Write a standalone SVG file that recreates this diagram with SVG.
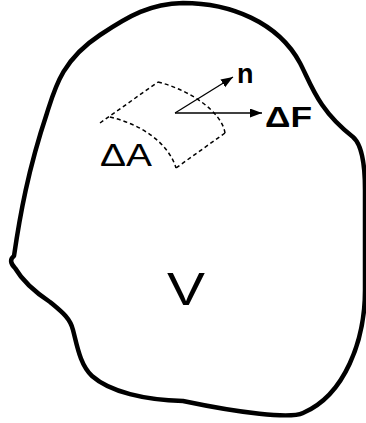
<svg xmlns="http://www.w3.org/2000/svg" width="366" height="423" viewBox="0 0 366 423">
<style>
.outline{fill:none;stroke:#000;stroke-width:4.5;stroke-linejoin:round;stroke-linecap:round}
.dash{fill:none;stroke:#000;stroke-width:1.5;stroke-dasharray:4 3}
.arrow{fill:none;stroke:#000;stroke-width:1.3}
.lbl{font-family:"Liberation Sans",Arial,sans-serif;fill:#000}
</style>
<defs>
<marker id="ah" markerUnits="userSpaceOnUse" markerWidth="14" markerHeight="10" refX="12" refY="4.5" orient="auto">
<path d="M0,0 L12,4.5 L0,9 Z" fill="#000"/>
</marker>
</defs>
<rect width="366" height="423" fill="#fff"/>
<g id="volume">
<path class="outline" d="M14,256 C20,215 28,170 47,113 C55,88 62,60 100,35 C130,15 150,4 183,3 C230,3 278,22 300,63 C311,84 318,110 353,137 C360,143 365,160 365,190 L365,290 C365,340 345,395 303,413 C290,419 240,413 183,401 C145,400 110,392 92,376 C80,365 77,345 73,330 C70,318 62,312 50,302 C35,292 22,280 15,268 C10,263 10,259 14,256 Z"/>
</g>
<g id="surface">
<path class="dash" d="M100,123 L158,82"/>
<path class="dash" d="M158,82 C190,90 222,112 225,133"/>
<path class="dash" d="M225,133 L176,168"/>
<path class="dash" d="M110,117 C140,124 168,142 176,168"/>
</g>
<g id="connectors">
<line class="arrow" x1="175" y1="113" x2="233" y2="77" marker-end="url(#ah)"/>
<line class="arrow" x1="175" y1="113" x2="262" y2="113" marker-end="url(#ah)"/>
</g>
<g id="label-n"><text class="lbl" x="237" y="83" font-size="27" font-weight="bold">n</text></g>
<g id="label-dF"><text class="lbl" x="265" y="127" font-size="29" font-weight="bold" textLength="47" lengthAdjust="spacingAndGlyphs">ΔF</text></g>
<g id="label-dA"><text class="lbl" x="100" y="166" font-size="31" textLength="52" lengthAdjust="spacingAndGlyphs">ΔA</text></g>
<g id="label-V"><text class="lbl" x="167" y="305" font-size="46" textLength="38" lengthAdjust="spacingAndGlyphs">V</text></g>
</svg>
